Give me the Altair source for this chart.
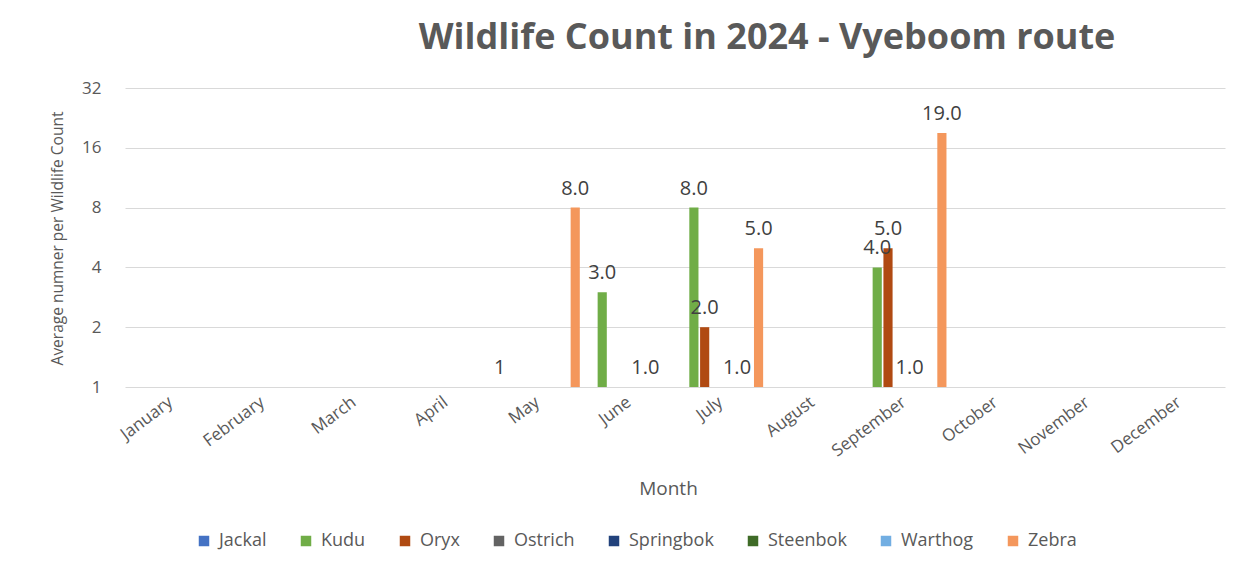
import altair as alt
import pandas as pd

months = ["January", "February", "March", "April", "May", "June", "July",
          "August", "September", "October", "November", "December"]
species = ["Jackal", "Kudu", "Oryx", "Ostrich", "Springbok", "Steenbok", "Warthog", "Zebra"]
colors = ["#4472C4", "#70AD47", "#B04A12", "#636363", "#22427C", "#3F6B27", "#72AEE2", "#F4975C"]

rec_month = ["May", "May", "June", "June", "July", "July", "July", "July",
             "September", "September", "September", "September"]
rec_species = ["Jackal", "Zebra", "Kudu", "Steenbok", "Kudu", "Oryx", "Steenbok", "Zebra",
               "Kudu", "Oryx", "Springbok", "Zebra"]
rec_value = [1, 8, 3, 1, 8, 2, 1, 5, 4, 5, 1, 19]
rec_label = ["1", "8.0", "3.0", "1.0", "8.0", "2.0", "1.0", "5.0", "4.0", "5.0", "1.0", "19.0"]

y_ticks = [1, 2, 4, 8, 16, 32]
y_base = 1

df = pd.DataFrame({"Month": rec_month, "Species": rec_species,
                   "Value": rec_value, "Label": rec_label})

FONT = "Open Sans"
GREY = "#595959"

x_enc = alt.X("Month:N", sort=months,
              scale=alt.Scale(domain=months, paddingInner=0.077, paddingOuter=0.0385),
              axis=alt.Axis(title="Month", labelAngle=-37, labelAlign="right",
                            labelBaseline="middle", labelPadding=13, ticks=False,
                            domain=False, labelFontSize=17, labelColor=GREY,
                            labelFont=FONT, titleFont=FONT, titleFontSize=19,
                            titleColor=GREY, titleFontWeight="normal",
                            titleY=101, titleBaseline="middle", titleX=543))
xo_enc = alt.XOffset("Species:N", sort=species,
                     scale=alt.Scale(domain=species, paddingInner=0.15, paddingOuter=0))
y_enc = alt.Y("Value:Q",
              scale=alt.Scale(type="log", base=2, domain=[1, 32], nice=False),
              axis=alt.Axis(title="Average numner per Wildlife Count", values=y_ticks,
                            format="d", ticks=False, domain=False, labelPadding=24,
                            labelFontSize=17, labelColor=GREY, labelFont=FONT,
                            gridColor="#d9d9d9", titleFont=FONT, titleFontSize=15.5,
                            titleColor=GREY, titleFontWeight="normal",
                            titleX=-68, titleY=150, titleBaseline="middle"))
color_enc = alt.Color("Species:N", sort=species,
                      scale=alt.Scale(domain=species, range=colors),
                      legend=alt.Legend(title=None, orient="none", direction="horizontal",
                                        columns=8, legendX=70, legendY=444,
                                        symbolType="square", symbolSize=110,
                                        symbolStrokeWidth=0,
                                        labelFontSize=18, labelFont=FONT,
                                        labelColor=GREY, columnPadding=30,
                                        labelOffset=6))

bars = alt.Chart(df).mark_bar().encode(
    x=x_enc, xOffset=xo_enc, y=y_enc, y2=alt.datum(y_base), color=color_enc)
labels = alt.Chart(df).mark_text(dy=-19, baseline="middle", fontSize=20,
                                 font=FONT, color="#404040").encode(
    x=x_enc, xOffset=xo_enc, y=y_enc, text="Label:N")

chart = alt.layer(bars, labels).properties(
    width=1100, height=299,
    title=alt.Title("Wildlife Count in 2024 - Vyeboom route", font=FONT, fontSize=36,
                    fontWeight="bold", color=GREY, anchor="middle", dx=92, offset=22),
    autosize=alt.AutoSizeParams(type="none"),
    padding={"left": 125, "top": 88, "right": 23, "bottom": 175},
).configure(background="white").configure_view(strokeWidth=0)

chart.save("out.html", embed_options={"renderer": "svg", "actions": False})
